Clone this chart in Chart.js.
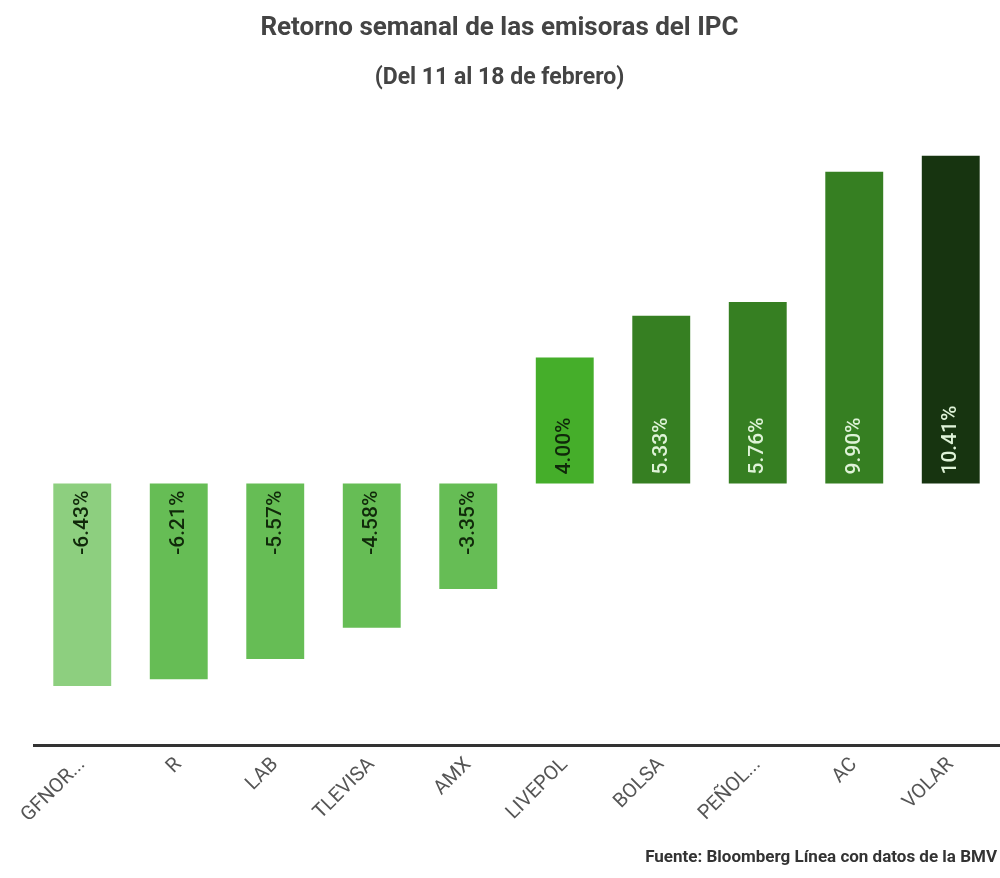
<!DOCTYPE html>
<html>
<head>
<meta charset="utf-8">
<script src="https://cdn.jsdelivr.net/npm/chart.js@4"></script>
<style>
  html, body { margin: 0; padding: 0; background: #fff; }
  #wrap { width: 1000px; height: 878px; position: relative; }
</style>
</head>
<body>
<div id="wrap"><canvas id="chart"></canvas></div>
<script>
var emisoras = ['GFNOR...', 'R', 'LAB', 'TLEVISA', 'AMX', 'LIVEPOL', 'BOLSA', 'PEÑOL...', 'AC', 'VOLAR'];
var retornos = [-6.43, -6.21, -5.57, -4.58, -3.35, 4.00, 5.33, 5.76, 9.90, 10.41];
var colores = ['#8dcf7f', '#66bd55', '#66bd55', '#66bd55', '#66bd55', '#45ae2a', '#367f22', '#367f22', '#367f22', '#173410'];
var coloresEtiqueta = ['#10290a', '#10290a', '#10290a', '#10290a', '#10290a', '#10290a', '#dff3d8', '#dff3d8', '#dff3d8', '#dff3d8'];

// etiquetas rotadas dentro de cada barra, pegadas al cero
var etiquetas = {
    id: 'etiquetas',
    afterDatasetsDraw: function(chart) {
        var ctx = chart.ctx;
        var cero = chart.scales.y.getPixelForValue(0);
        var meta = chart.getDatasetMeta(0);
        ctx.save();
        ctx.font = '500 21px Roboto';
        ctx.textBaseline = 'middle';
        meta.data.forEach(function(bar, i) {
            var v = retornos[i];
            ctx.save();
            ctx.fillStyle = coloresEtiqueta[i];
            if (v >= 0) {
                ctx.translate(bar.x, cero - 9);
                ctx.textAlign = 'left';
            } else {
                ctx.translate(bar.x, cero + 7);
                ctx.textAlign = 'right';
            }
            ctx.rotate(-Math.PI / 2);
            ctx.fillText(v.toFixed(2) + '%', 0, 0);
            ctx.restore();
        });
        ctx.restore();
    }
};

var fuente = {
    id: 'fuente',
    afterDraw: function(chart) {
        var ctx = chart.ctx;
        ctx.save();
        ctx.font = 'bold 17px Roboto';
        ctx.fillStyle = '#333';
        ctx.textAlign = 'right';
        ctx.textBaseline = 'middle';
        ctx.fillText('Fuente: Bloomberg Línea con datos de la BMV', 997, 858);
        ctx.restore();
    }
};

new Chart(document.getElementById('chart'), {
    type: 'bar',
    data: {
        labels: emisoras,
        datasets: [{
            data: retornos,
            backgroundColor: colores,
            barPercentage: 0.6,
            categoryPercentage: 1.0
        }]
    },
    options: {
        responsive: true,
        maintainAspectRatio: false,
        animation: false,
        layout: {
            padding: { left: 0, right: 1, top: 0, bottom: 43 }
        },
        plugins: {
            legend: { display: false },
            tooltip: { enabled: false },
            title: {
                display: true,
                text: 'Retorno semanal de las emisoras del IPC',
                color: '#444',
                font: { family: 'Roboto', size: 26, weight: 'bold' },
                padding: { top: 13, bottom: 15 }
            },
            subtitle: {
                display: true,
                text: '(Del 11 al 18 de febrero)',
                color: '#444',
                font: { family: 'Roboto', size: 23, weight: 'bold' },
                padding: { top: 5, bottom: 61 }
            }
        },
        scales: {
            x: {
                grid: { display: false, drawTicks: false },
                border: { display: true, color: '#333', width: 3 },
                ticks: {
                    color: '#555',
                    font: { family: 'Roboto', size: 20 },
                    minRotation: 45,
                    maxRotation: 45,
                    padding: 8,
                    autoSkip: false
                },
                afterFit: function(scale) { scale.height = 90; }
            },
            y: {
                display: true,
                min: -8.3,
                max: 10.5,
                grid: { display: false, drawTicks: false },
                border: { display: false },
                ticks: { display: false },
                afterFit: function(scale) { scale.width = 34; }
            }
        }
    },
    plugins: [etiquetas, fuente]
});
</script>
</body>
</html>
